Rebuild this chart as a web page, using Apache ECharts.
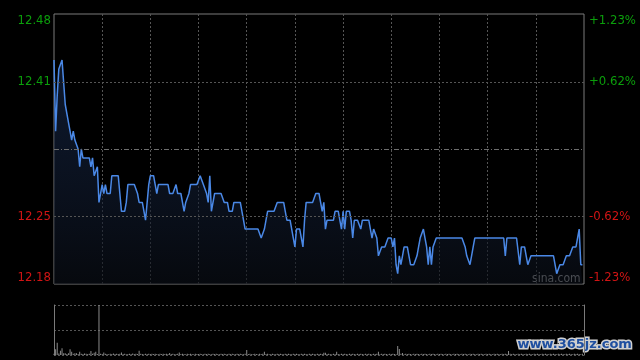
<!DOCTYPE html>
<html>
<head>
<meta charset="utf-8">
<script src="https://cdn.jsdelivr.net/npm/echarts@6/dist/echarts.min.js"></script>
<style>html,body{margin:0;padding:0;background:#000;}#c{width:640px;height:360px;}</style>
</head>
<body>
<div id="c"></div>
<script>
const prevClose = 12.33;
const pctRange = 1.23;
const leftLabels = ['12.18', '12.25', '', '12.41', '12.48'];
const rightLabels = ['-1.23%', '-0.62%', '', '+0.62%', '+1.23%'];

const prices = [
12.43,12.35,12.39,12.42,12.42,12.43,12.43,12.38,12.38,12.36,
12.35,12.34,12.35,12.34,12.34,12.33,12.31,12.33,12.32,12.32,
12.32,12.32,12.32,12.31,12.32,12.30,12.30,12.31,12.27,12.27,
12.29,12.28,12.29,12.28,12.28,12.28,12.30,12.30,12.30,12.30,
12.30,12.28,12.26,12.26,12.26,12.27,12.29,12.29,12.29,12.29,
12.29,12.29,12.28,12.27,12.27,12.27,12.27,12.25,12.27,12.29,
12.30,12.30,12.30,12.29,12.28,12.29,12.29,12.29,12.29,12.29,
12.29,12.29,12.28,12.28,12.28,12.28,12.29,12.28,12.28,12.28,
12.28,12.26,12.27,12.27,12.28,12.29,12.29,12.29,12.29,12.29,
12.29,12.30,12.30,12.29,12.29,12.28,12.27,12.30,12.26,12.27,
12.28,12.28,12.28,12.28,12.28,12.28,12.27,12.27,12.27,12.26,
12.26,12.26,12.27,12.27,12.27,12.27,12.27,12.27,12.25,12.24,
12.24,12.24,12.24,12.24,12.24,12.24,12.24,12.24,12.24,12.23,
12.23,12.24,12.25,12.26,12.26,12.26,12.26,12.26,12.26,12.27,
12.27,12.27,12.27,12.27,12.26,12.25,12.25,12.25,12.25,12.23,
12.22,12.24,12.24,12.24,12.24,12.22,12.25,12.27,12.27,12.27,
12.27,12.27,12.27,12.28,12.28,12.28,12.27,12.26,12.27,12.24,
12.25,12.25,12.25,12.25,12.25,12.26,12.26,12.26,12.26,12.24,
12.26,12.24,12.26,12.26,12.26,12.25,12.23,12.25,12.25,12.25,
12.25,12.24,12.25,12.25,12.25,12.25,12.25,12.24,12.23,12.24,
12.24,12.23,12.21,12.21,12.22,12.22,12.22,12.22,12.23,12.23,
12.23,12.22,12.23,12.20,12.19,12.21,12.20,12.21,12.22,12.22,
12.22,12.21,12.20,12.20,12.20,12.20,12.21,12.22,12.23,12.23,
12.24,12.23,12.22,12.20,12.22,12.20,12.22,12.22,12.23,12.23,
12.23,12.23,12.23,12.23,12.23,12.23,12.23,12.23,12.23,12.23,
12.23,12.23,12.23,12.23,12.23,12.23,12.22,12.21,12.21,12.20,
12.21,12.22,12.23,12.23,12.23,12.23,12.23,12.23,12.23,12.23,
12.23,12.23,12.23,12.23,12.23,12.23,12.23,12.23,12.23,12.23,
12.23,12.21,12.23,12.23,12.23,12.23,12.23,12.23,12.23,12.23,
12.20,12.22,12.22,12.22,12.21,12.20,12.20,12.21,12.21,12.21,
12.21,12.21,12.21,12.21,12.21,12.21,12.21,12.21,12.21,12.21,
12.21,12.21,12.21,12.19,12.19,12.20,12.20,12.20,12.20,12.21,
12.21,12.21,12.21,12.22,12.22,12.22,12.22,12.24,12.20,12.20
];

const volumes = [
12,57,123,14,43,67,17,17,10,17,
57,33,12,17,17,10,33,12,10,14,
12,10,13,40,12,23,33,10,500,12,
10,25,12,10,8,12,10,14,10,12,
10,12,24,10,12,8,10,12,10,14,
10,12,10,43,12,10,8,12,10,12,
10,13,10,12,10,8,12,10,12,10,
12,10,20,10,12,8,10,12,24,10,
12,10,8,12,10,12,10,8,12,10,
10,12,10,8,12,10,12,10,8,12,
10,12,10,8,12,10,12,10,8,12,
10,12,10,8,12,10,12,10,8,12,
50,10,12,8,10,12,10,8,12,10,
12,33,10,12,8,10,12,10,8,12,
10,12,10,8,12,10,12,10,8,12,
10,12,10,8,12,10,12,10,8,12,
10,12,10,8,12,10,12,10,23,23,
10,12,10,8,12,10,33,10,8,12,
10,12,10,8,12,10,12,10,8,12,
10,12,10,8,12,10,12,10,8,12,
10,12,33,8,12,10,12,10,8,12,
10,12,10,8,90,60,12,20,8,12,
10,12,10,8,12,10,12,10,8,12,
10,12,10,8,12,10,12,10,8,12,
10,12,10,8,12,10,12,10,8,12,
10,12,10,8,12,10,12,10,8,12,
10,12,10,8,12,10,12,10,8,12,
10,12,10,8,12,10,12,10,8,12,
10,12,10,40,12,10,12,10,8,12,
10,12,10,8,12,10,12,10,8,12,
10,12,10,8,12,10,12,10,8,12,
10,12,10,8,12,10,12,10,8,12,
10,12,10,8,12,10,12,10,8,12
];

const times = [];
for (let m = 9 * 60 + 30; m < 12 * 60; m++) times.push(String(Math.floor(m / 60)).padStart(2, '0') + ':' + String(m % 60).padStart(2, '0'));
for (let m = 13 * 60; m <= 16 * 60; m++) times.push(String(Math.floor(m / 60)).padStart(2, '0') + ':' + String(m % 60).padStart(2, '0'));

const pct = prices.map(p => (p / prevClose - 1) * 100);

const GREEN = '#0b9e0b';
const RED = '#d01414';
const FONT = '"Liberation Sans Narrow","Arial Narrow","DejaVu Sans Condensed",sans-serif';
const step = pctRange / 2;
const GRIDC = '#555555';

function rich(color) {
  return {
    top: { color: color, fontSize: 13, fontFamily: FONT, padding: [14, 0, 0, 0] },
    mid: { color: color, fontSize: 13, fontFamily: FONT },
    bot: { color: color, fontSize: 13, fontFamily: FONT, padding: [0, 0, 12, 0] }
  };
}
function fmt(labels) {
  return function (v) {
    const k = Math.round((v + pctRange) / step);
    const t = labels[k];
    if (!t) return '';
    const col = k >= 2 ? 'g' : 'r';
    const pos = k === 4 ? 'top' : (k === 0 ? 'bot' : 'mid');
    return '{' + col + pos + '|' + t + '}';
  };
}
const richAll = {};
const rg = rich(GREEN), rr = rich(RED);
['top', 'mid', 'bot'].forEach(k => { richAll['g' + k] = rg[k]; richAll['r' + k] = rr[k]; });

const chart = echarts.init(document.getElementById('c'), null, { renderer: 'canvas' });
chart.setOption({
  backgroundColor: '#000',
  animation: false,
  grid: [
    { left: 54, right: 56, top: 14, height: 270, show: true, borderColor: '#7a7a7a', borderWidth: 1, backgroundColor: 'transparent' },
    { left: 54, right: 56, top: 305, height: 50 }
  ],
  xAxis: [
    {
      type: 'category', gridIndex: 0, data: times, boundaryGap: false,
      axisLine: { show: false }, axisTick: { show: false }, axisLabel: { show: false },
      splitLine: { show: true, interval: function (i) { return i > 0 && i < 330 && i % 30 === 0; }, lineStyle: { color: GRIDC, type: [2, 2], width: 1 } }
    },
    {
      type: 'category', gridIndex: 1, data: times, boundaryGap: false,
      axisLine: { show: false }, axisTick: { show: false }, axisLabel: { show: false }, splitLine: { show: false }
    }
  ],
  yAxis: [
    {
      type: 'value', gridIndex: 0, position: 'left', min: -pctRange, max: pctRange, interval: step,
      axisLine: { show: false }, axisTick: { show: false }, splitLine: { show: false },
      axisLabel: { margin: 3, formatter: fmt(leftLabels), rich: richAll }
    },
    {
      type: 'value', gridIndex: 0, position: 'right', min: -pctRange, max: pctRange, interval: step,
      axisLine: { show: false }, axisTick: { show: false }, splitLine: { show: false },
      axisLabel: { margin: 5, formatter: fmt(rightLabels), rich: richAll }
    },
    {
      type: 'value', gridIndex: 1, position: 'left', min: 0, max: 500, interval: 250,
      axisLine: { show: true, lineStyle: { color: '#7a7a7a' } }, axisTick: { show: false }, axisLabel: { show: false },
      splitLine: { show: true, lineStyle: { color: GRIDC, type: [2, 2] } }
    },
    {
      type: 'value', gridIndex: 1, position: 'right', min: 0, max: 500, interval: 250,
      axisLine: { show: true, lineStyle: { color: '#7a7a7a' } }, axisTick: { show: false }, axisLabel: { show: false },
      splitLine: { show: false }
    }
  ],
  series: [
    {
      type: 'line', xAxisIndex: 0, yAxisIndex: 0, data: pct, showSymbol: false, symbol: 'none',
      lineStyle: { color: '#4a88e6', width: 1.5 },
      areaStyle: {
        origin: 'start',
        color: new echarts.graphic.LinearGradient(0, 0, 0, 1, [
          { offset: 0, color: 'rgba(28,50,92,0.7)' },
          { offset: 1, color: 'rgba(10,14,22,0.9)' }
        ])
      },
      markLine: {
        silent: true, symbol: 'none', label: { show: false }, animation: false,
        data: [
          { yAxis: step, lineStyle: { color: GRIDC, type: [2, 2], width: 1 } },
          { yAxis: -step, lineStyle: { color: GRIDC, type: [2, 2], width: 1 } },
          { yAxis: 0, lineStyle: { color: '#6e6e6e', type: [5, 2, 1, 2], width: 1 } }
        ]
      },
      z: 3
    },
    {
      type: 'bar', xAxisIndex: 1, yAxisIndex: 2, data: volumes, barWidth: 1,
      itemStyle: { color: '#8a8a8a' }
    }
  ],
  graphic: [
    { type: 'text', left: 532, top: 273, silent: true,
      style: { text: 'sina.com', fill: '#b0b0b0', font: '12px ' + FONT } },
    { type: 'text', left: 516, top: 337, silent: true,
      style: { text: 'www.365jz.com', fill: '#1f4fa0', stroke: '#d0d0d0', lineWidth: 3, font: 'bold 13px "DejaVu Sans",sans-serif' } }
  ]
});
</script>
</body>
</html>
